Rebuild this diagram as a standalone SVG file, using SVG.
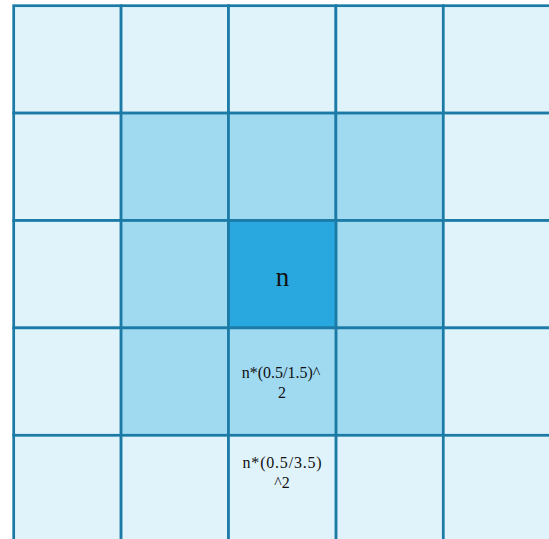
<svg xmlns="http://www.w3.org/2000/svg" width="549" height="539" viewBox="0 0 549 539">
<style>
.c{stroke:#1b7ba6;stroke-width:2.7}
.o{fill:#e0f3fb}
.r{fill:#a0daf1}
.m{fill:#29a8e0}
text{font-family:"Liberation Serif","Times New Roman",serif;fill:#111;text-anchor:middle}
</style>
<rect width="549" height="539" fill="#ffffff"/>
<g id="cells">
<rect class="c o" x="13.7" y="5.7" width="107.4" height="107.4"/>
<rect class="c o" x="121.1" y="5.7" width="107.4" height="107.4"/>
<rect class="c o" x="228.5" y="5.7" width="107.4" height="107.4"/>
<rect class="c o" x="335.9" y="5.7" width="107.4" height="107.4"/>
<rect class="c o" x="443.3" y="5.7" width="107.4" height="107.4"/>
<rect class="c o" x="13.7" y="113.1" width="107.4" height="107.4"/>
<rect class="c r" x="121.1" y="113.1" width="107.4" height="107.4"/>
<rect class="c r" x="228.5" y="113.1" width="107.4" height="107.4"/>
<rect class="c r" x="335.9" y="113.1" width="107.4" height="107.4"/>
<rect class="c o" x="443.3" y="113.1" width="107.4" height="107.4"/>
<rect class="c o" x="13.7" y="220.5" width="107.4" height="107.4"/>
<rect class="c r" x="121.1" y="220.5" width="107.4" height="107.4"/>
<rect class="c r" x="335.9" y="220.5" width="107.4" height="107.4"/>
<rect class="c o" x="443.3" y="220.5" width="107.4" height="107.4"/>
<rect class="c o" x="13.7" y="327.9" width="107.4" height="107.4"/>
<rect class="c r" x="121.1" y="327.9" width="107.4" height="107.4"/>
<rect class="c r" x="335.9" y="327.9" width="107.4" height="107.4"/>
<rect class="c o" x="443.3" y="327.9" width="107.4" height="107.4"/>
<rect class="c o" x="13.7" y="435.3" width="107.4" height="107.4"/>
<rect class="c o" x="121.1" y="435.3" width="107.4" height="107.4"/>
<rect class="c o" x="335.9" y="435.3" width="107.4" height="107.4"/>
<rect class="c o" x="443.3" y="435.3" width="107.4" height="107.4"/>
</g>
<g id="center">
<rect class="c m" x="228.5" y="220.5" width="107.4" height="107.4"/>
<text x="282.5" y="285.5" font-size="27">n</text>
</g>
<g id="near">
<rect class="c r" x="228.5" y="327.9" width="107.4" height="107.4"/>
<text x="281" y="377.7" font-size="16">n*(0.5/1.5)^</text>
<text x="282" y="398.3" font-size="16">2</text>
</g>
<g id="far">
<rect class="c o" x="228.5" y="435.3" width="107.4" height="107.4"/>
<text x="282.5" y="467.7" font-size="16" letter-spacing="0.8">n*(0.5/3.5)</text>
<text x="282" y="488.3" font-size="16">^2</text>
</g>
</svg>
